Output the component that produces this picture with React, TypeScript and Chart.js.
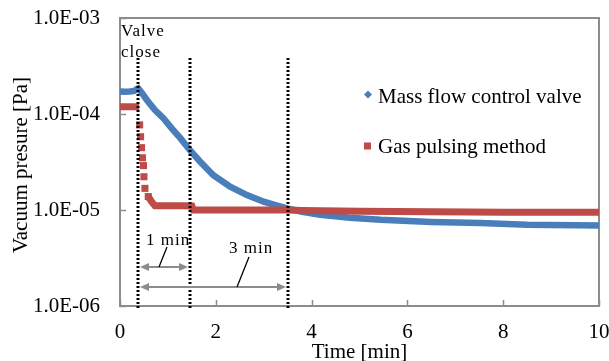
import React, { useEffect, useRef } from "react";
import { Chart, registerables } from "chart.js";
Chart.register(...registerables);

// ---- data ----
const massFlowTime = [0, 0.1, 0.2, 0.3, 0.35, 0.38, 0.45, 0.56, 0.73, 0.91, 1.08, 1.26, 1.46, 1.67, 1.95, 2.3, 2.65, 3.0, 3.28, 3.49, 3.8, 4.18, 4.8, 5.44, 6.5, 7.53, 8.5, 10.0];
const massFlowPressure = [1.72e-4, 1.71e-4, 1.72e-4, 1.74e-4, 1.82e-4, 1.85e-4, 1.68e-4, 1.40e-4, 1.10e-4, 9.0e-5, 7.1e-5, 5.6e-5, 4.2e-5, 3.2e-5, 2.3e-5, 1.75e-5, 1.43e-5, 1.22e-5, 1.11e-5, 1.04e-5, 9.6e-6, 8.9e-6, 8.3e-6, 7.9e-6, 7.5e-6, 7.3e-6, 7.0e-6, 6.9e-6];

const gasPulseTime = [0, 0.1, 0.2, 0.3, 0.4, 0.41, 0.43, 0.45, 0.47, 0.49, 0.5, 0.52, 0.59, 0.66, 0.73, 0.9, 1.1, 1.3, 1.5, 1.53, 2.5, 3.5, 3.8, 5, 6.5, 8, 10];
const gasPulsePressure = [1.19e-4, 1.19e-4, 1.19e-4, 1.19e-4, 1.19e-4, 7.7e-5, 5.8e-5, 4.46e-5, 3.5e-5, 2.9e-5, 2.22e-5, 1.68e-5, 1.38e-5, 1.22e-5, 1.11e-5, 1.11e-5, 1.11e-5, 1.11e-5, 1.1e-5, 1.0e-5, 1.0e-5, 1.0e-5, 9.9e-6, 9.7e-6, 9.6e-6, 9.5e-6, 9.45e-6];

const seriesNames = ["Mass flow control valve", "Gas pulsing method"];
const xTickValues = [0, 2, 4, 6, 8, 10];
const yTickValues = [1e-6, 1e-5, 1e-4, 1e-3];
const yTickLabels = ["1.0E-06", "1.0E-05", "1.0E-04", "1.0E-03"];
const xTitle = "Time [min]";
const yTitle = "Vacuum presure [Pa]";
const markerTimes = [0.38, 1.47, 3.5];
const markerLabel = ["Valve", "close"];
const intervalLabels = ["1 min", "3 min"];
const dropWindow = [0.4, 0.59];

const BLUE = "#4a7ebb";
const RED = "#be4b48";
const GRAY = "#8c8c8c";
const FONT = "'Liberation Serif', 'Times New Roman', serif";

function arrow(ctx: CanvasRenderingContext2D, x1: number, x2: number, y: number) {
  const hl = 9, hw = 4;
  ctx.strokeStyle = GRAY;
  ctx.fillStyle = GRAY;
  ctx.lineWidth = 2;
  ctx.beginPath();
  ctx.moveTo(x1 + hl - 1, y);
  ctx.lineTo(x2 - hl + 1, y);
  ctx.stroke();
  ctx.beginPath();
  ctx.moveTo(x1, y);
  ctx.lineTo(x1 + hl, y - hw);
  ctx.lineTo(x1 + hl, y + hw);
  ctx.closePath();
  ctx.fill();
  ctx.beginPath();
  ctx.moveTo(x2, y);
  ctx.lineTo(x2 - hl, y - hw);
  ctx.lineTo(x2 - hl, y + hw);
  ctx.closePath();
  ctx.fill();
}

function noPad(s: any) {
  s.paddingTop = 0;
  s.paddingBottom = 0;
  s.paddingLeft = 0;
  s.paddingRight = 0;
}

const framePlugin = {
  id: "frame",
  beforeDatasetsDraw(chart: any) {
    const { ctx, chartArea: a, scales } = chart;
    ctx.save();
    ctx.strokeStyle = GRAY;
    ctx.lineWidth = 2;
    ctx.strokeRect(a.left, a.top, a.right - a.left, a.bottom - a.top);
    ctx.lineWidth = 1.5;
    ctx.beginPath();
    for (const v of yTickValues) {
      const y = Math.round(scales.y.getPixelForValue(v)) + 0.5;
      ctx.moveTo(a.left, y);
      ctx.lineTo(a.left + 6, y);
    }
    for (const v of xTickValues) {
      const x = Math.round(scales.x.getPixelForValue(v)) + 0.5;
      ctx.moveTo(x, a.bottom);
      ctx.lineTo(x, a.bottom - 6);
    }
    ctx.stroke();
    ctx.restore();
  },
  afterDatasetsDraw(chart: any) {
    const { ctx, chartArea: a, scales } = chart;
    ctx.save();
    // dotted marker lines
    ctx.strokeStyle = "#000";
    ctx.lineWidth = 3;
    ctx.setLineDash([2, 2]);
    const mx = markerTimes.map((t) => Math.round(scales.x.getPixelForValue(t)));
    for (const x of mx) {
      ctx.beginPath();
      ctx.moveTo(x, 58);
      ctx.lineTo(x, a.bottom + 4);
      ctx.stroke();
    }
    ctx.setLineDash([]);

    // annotation texts
    ctx.fillStyle = "#000";
    ctx.font = `17px ${FONT}`;
    (ctx as any).letterSpacing = "1px";
    ctx.textBaseline = "alphabetic";
    ctx.textAlign = "left";
    ctx.fillText(markerLabel[0], a.left + 1, 36);
    ctx.fillText(markerLabel[1], a.left + 1, 57);
    ctx.fillText(intervalLabels[0], 146, 245);
    ctx.fillText(intervalLabels[1], 229, 253);
    (ctx as any).letterSpacing = "0px";

    // arrows
    arrow(ctx, mx[0] + 2, mx[1] - 2, 267);
    arrow(ctx, mx[0] + 2, mx[2] - 2, 287);

    // leader lines
    ctx.strokeStyle = "#000";
    ctx.lineWidth = 1.3;
    ctx.beginPath();
    ctx.moveTo(167, 247);
    ctx.lineTo(159, 267);
    ctx.moveTo(249, 257);
    ctx.lineTo(237, 287);
    ctx.stroke();

    // legend
    ctx.fillStyle = BLUE;
    ctx.beginPath();
    ctx.moveTo(368, 90.5);
    ctx.lineTo(372, 94.5);
    ctx.lineTo(368, 98.5);
    ctx.lineTo(364, 94.5);
    ctx.closePath();
    ctx.fill();
    ctx.fillStyle = RED;
    ctx.fillRect(364, 142.5, 7, 7);
    ctx.fillStyle = "#000";
    ctx.font = `21px ${FONT}`;
    ctx.fillText(seriesNames[0], 378, 103);
    ctx.fillText(seriesNames[1], 378, 153);

    // axis titles
    ctx.textAlign = "center";
    ctx.fillText(xTitle, (a.left + a.right) / 2, 358);
    ctx.translate(27, 165);
    ctx.rotate(-Math.PI / 2);
    ctx.fillText(yTitle, 0, 0);
    ctx.restore();
  },
};

export default function App() {
  const ref = useRef<HTMLCanvasElement>(null);
  useEffect(() => {
    document.body.style.margin = "0";
    const blue = massFlowTime.map((t, i) => ({ x: t, y: massFlowPressure[i] }));
    const red = gasPulseTime.map((t, i) => ({ x: t, y: gasPulsePressure[i] }));
    const inDrop = (x: number) => x > dropWindow[0] && x < dropWindow[1] + 0.01;
    const chart = new Chart(ref.current as HTMLCanvasElement, {
      type: "scatter",
      data: {
        datasets: [
          {
            label: seriesNames[1],
            data: red,
            showLine: true,
            borderColor: RED,
            backgroundColor: RED,
            borderWidth: 7,
            pointStyle: "rect",
            pointRadius: (c: any) => (c.raw && inDrop(c.raw.x) ? 5 : 0),
            pointBorderWidth: 0,
            segment: {
              borderColor: (c: any) =>
                c.p0.parsed.x >= dropWindow[0] && c.p1.parsed.x <= dropWindow[1] ? "rgba(0,0,0,0)" : undefined,
            },
          },
          {
            label: seriesNames[0],
            data: blue,
            showLine: true,
            borderColor: BLUE,
            backgroundColor: BLUE,
            borderWidth: 6.5,
            pointStyle: "rectRot",
            pointRadius: 0,
            pointBorderWidth: 0,
          },
        ],
      },
      options: {
        responsive: false,
        animation: false,
        layout: { padding: { top: 18, right: 10, left: 0, bottom: 0 } },
        plugins: { legend: { display: false }, tooltip: { enabled: false } },
        scales: {
          x: {
            type: "linear",
            min: 0,
            max: 10,
            grid: { display: false, drawTicks: false },
            border: { display: false },
            afterBuildTicks: (s: any) => {
              s.ticks = xTickValues.map((v) => ({ value: v }));
            },
            afterFit: (s: any) => {
              s.height = 55;
              noPad(s);
            },
            ticks: {
              color: "#000",
              font: { family: FONT, size: 21 },
              padding: 14,
              maxRotation: 0,
              autoSkip: false,
            },
          },
          y: {
            type: "logarithmic",
            min: 1e-6,
            max: 1e-3,
            grid: { display: false, drawTicks: false },
            border: { display: false },
            afterBuildTicks: (s: any) => {
              s.ticks = yTickValues.map((v) => ({ value: v }));
            },
            afterFit: (s: any) => {
              s.width = 120;
              noPad(s);
            },
            ticks: {
              color: "#000",
              font: { family: FONT, size: 21 },
              padding: 20,
              autoSkip: false,
              callback: (v: any) => {
                const i = yTickValues.findIndex((t) => Math.abs(Math.log10(t) - Math.log10(v)) < 1e-6);
                return i >= 0 ? yTickLabels[i] : "";
              },
            },
          },
        },
      },
      plugins: [framePlugin],
    } as any);
    return () => chart.destroy();
  }, []);
  return (
    <div style={{ width: 609, height: 361, position: "relative" }}>
      <canvas ref={ref} width={609} height={361} style={{ display: "block", width: 609, height: 361 }} />
    </div>
  );
}
